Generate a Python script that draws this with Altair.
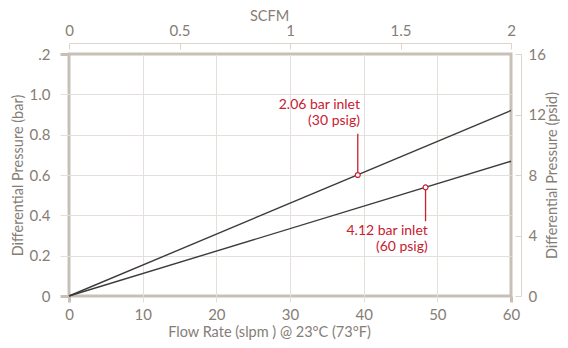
import altair as alt
import pandas as pd

# ---- data ----
flow_slpm = [0, 60]
dp_30psig = [0.0, 0.92]
dp_60psig = [0.0, 0.668]

marker_flow = [39.2, 48.4]
marker_dp = [0.600, 0.539]
leader_end = [0.805, 0.371]

ann_x = [39.5, 48.7]
ann_y = [0.925, 0.302]
ann_text = ["2.06 bar inlet\n(30 psig)", "4.12 bar inlet\n(60 psig)"]

flow_ticks = [0, 10, 20, 30, 40, 50, 60]
bar_ticks = [0, 0.2, 0.4, 0.6, 0.8, 1.0, 1.2]
scfm_ticks = [0, 0.5, 1, 1.5, 2]
psid_ticks = [0, 4, 8, 12, 16]

FONT = "Lato"
TXT = "#857d76"
GRID = "#e4dfda"
FRAME = "#c8bfb6"
LIGHT = "#dcd5ce"
RED = "#c8202f"
LINE = "#3b3b3b"
TFS = 14.5

W, H = 442, 242

xscale = alt.Scale(domain=[0, 60], nice=False, zero=False)
yscale = alt.Scale(domain=[0, 1.2], nice=False, zero=False)

x_axis = alt.Axis(
    values=flow_ticks, title="Flow Rate (slpm ) @ 23°C (73°F)",
    grid=True, gridColor=GRID, gridWidth=1,
    gridOpacity={"condition": {"test": "datum.value <= 0 || datum.value >= 60", "value": 0}, "value": 1},
    domain=False, tickSize=6,
    tickColor={"condition": {"test": "datum.value <= 0 || datum.value >= 60", "value": FRAME}, "value": GRID},
    tickWidth={"condition": {"test": "datum.value <= 0 || datum.value >= 60", "value": 3}, "value": 1},
    labelPadding=5, labelFontSize=15, labelColor=TXT, labelFont=FONT, labelFlush=False,
    titleFontSize=TFS, titleColor=TXT, titleFont=FONT, titleFontWeight="normal",
    titleX=200, titleY=36, titleAnchor="middle", titleAlign="center", titleBaseline="middle",
)
y_axis = alt.Axis(
    values=bar_ticks, title="Differential Pressure (bar)",
    labelExpr="datum.value >= 1.19 ? '.2' : (datum.value == 0 ? '0' : format(datum.value, '.1f'))",
    grid=True, gridColor=GRID, gridWidth=1,
    gridOpacity={"condition": {"test": "datum.value <= 0.01 || datum.value >= 1.19", "value": 0}, "value": 1},
    domain=False, tickSize=9,
    tickColor={"condition": {"test": "datum.value <= 0.01 || datum.value >= 1.19", "value": FRAME}, "value": GRID},
    tickWidth={"condition": {"test": "datum.value <= 0.01 || datum.value >= 1.19", "value": 3}, "value": 1},
    labelPadding=10, labelFontSize=15, labelColor=TXT, labelFont=FONT, labelFlush=False,
    titleFontSize=TFS, titleColor=TXT, titleFont=FONT, titleFontWeight="normal",
    titleX=-51, titleY=H / 2, titleAngle=270, titleAlign="center", titleBaseline="middle",
)


def xenc():
    return alt.X("x:Q", scale=xscale, axis=x_axis)


def yenc():
    return alt.Y("y:Q", scale=yscale, axis=y_axis)


line_df = pd.DataFrame({
    "x": flow_slpm + flow_slpm,
    "y": dp_30psig + dp_60psig,
    "series": ["30 psig"] * len(flow_slpm) + ["60 psig"] * len(flow_slpm),
})
marker_df = pd.DataFrame({"x": marker_flow, "y": marker_dp, "y2": leader_end})
ann_df = pd.DataFrame({"x": ann_x, "y": ann_y, "t": ann_text})

lines = alt.Chart(line_df).mark_line(color=LINE, strokeWidth=1.4).encode(
    x=xenc(), y=yenc(), detail="series:N"
)
leaders = alt.Chart(marker_df).mark_rule(color=RED, strokeWidth=1.3).encode(
    x=xenc(), y=yenc(), y2="y2:Q"
)
markers = alt.Chart(marker_df).mark_point(
    shape="circle", filled=True, fill="white", stroke=RED, strokeWidth=1.2, size=24, opacity=1
).encode(x=xenc(), y=yenc())
texts = alt.Chart(ann_df).mark_text(
    align="right", baseline="alphabetic", color=RED, fontSize=14, font=FONT,
    lineBreak="\n", lineHeight=16
).encode(x=xenc(), y=yenc(), text="t:N")

inner = alt.layer(lines, leaders, markers, texts)

axis_df = pd.DataFrame({"s": [0, 2], "p": [0, 16]})
sec = alt.Chart(axis_df).mark_point(opacity=0).encode(
    x=alt.X("s:Q", scale=alt.Scale(domain=[0, 2], nice=False), axis=alt.Axis(
        orient="top", values=scfm_ticks, title="SCFM", offset=11, grid=False,
        labelExpr="format(datum.value, '~g')",
        domain=True, domainColor=LIGHT, domainWidth=1,
        ticks=True, tickColor=LIGHT, tickWidth=1, tickSize={"expr": "-6"},
        labelPadding=11, labelFontSize=15, labelColor=TXT, labelFont=FONT, labelFlush=False,
        titleFontSize=TFS, titleColor=TXT, titleFont=FONT, titleFontWeight="normal",
        titleX=200, titleY=-26.5, titleAlign="center", titleBaseline="middle",
    )),
    y=alt.Y("p:Q", scale=alt.Scale(domain=[0, 16], nice=False), axis=alt.Axis(
        orient="right", values=psid_ticks, title="Differential Pressure (psid)", offset=10, grid=False,
        domain=True, domainColor=LIGHT, domainWidth=1,
        ticks=True, tickColor=LIGHT, tickWidth=1, tickSize={"expr": "-6"},
        labelPadding=13, labelFontSize=15, labelColor=TXT, labelFont=FONT, labelFlush=False,
        titleFontSize=TFS, titleColor=TXT, titleFont=FONT, titleFontWeight="normal",
        titleX=31, titleY=H / 2, titleAngle=270, titleAlign="center", titleBaseline="middle",
    )),
)

chart = alt.layer(inner, sec).resolve_scale(
    x="independent", y="independent"
).properties(
    width=W, height=H, autosize="none",
    padding={"left": 61, "top": 46, "right": 49, "bottom": 44},
).configure_view(stroke=FRAME, strokeWidth=3)

chart.save("out.html", embed_options={"renderer": "svg", "actions": False})
